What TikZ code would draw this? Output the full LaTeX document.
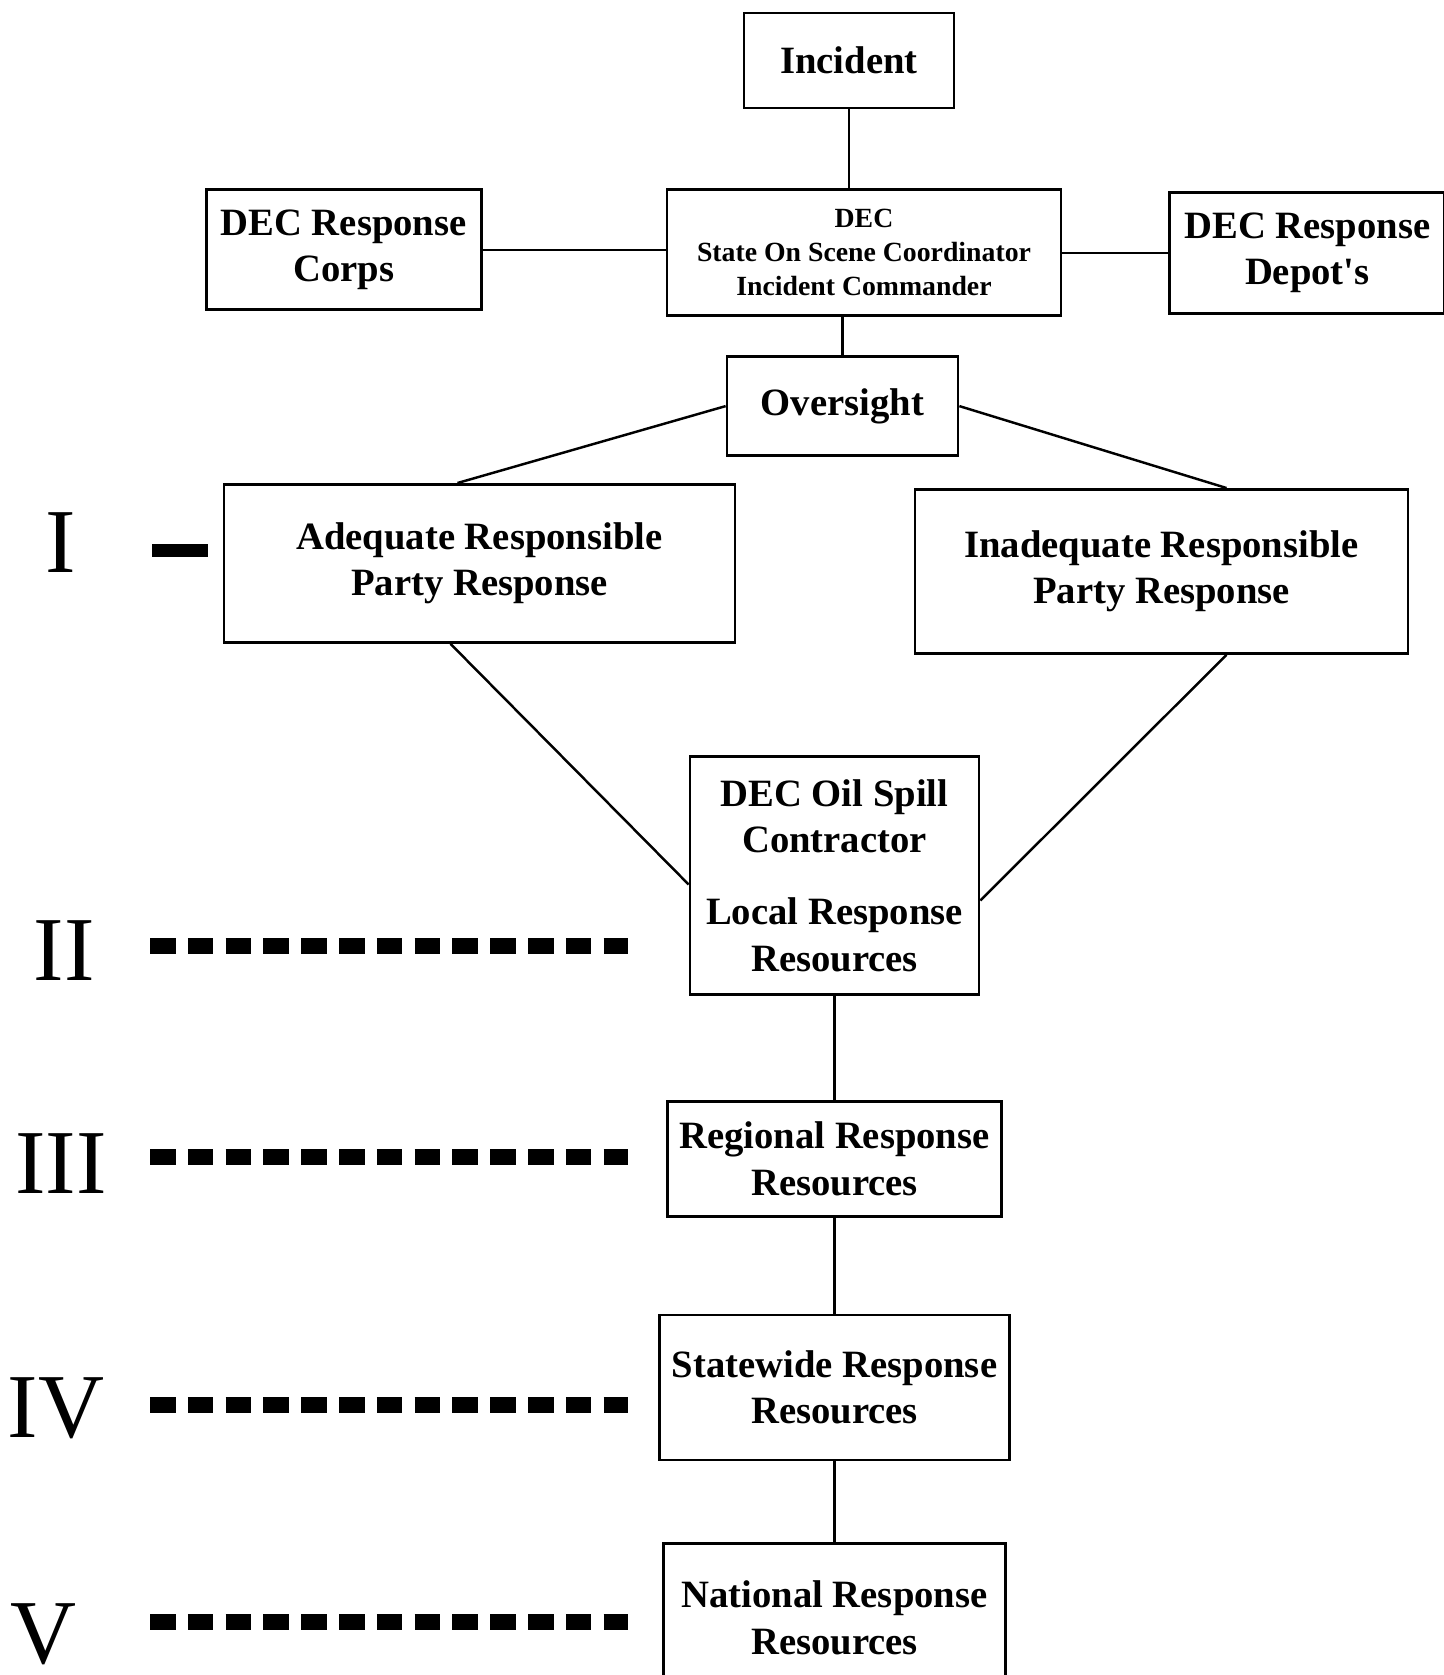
\documentclass[tikz,border=0pt]{standalone}
\usepackage{fontspec}
\setmainfont{Liberation Serif}
\usetikzlibrary{positioning,calc}

\begin{document}
\begin{tikzpicture}[
    node distance=0.5cm and 1.2cm,
    every node/.style={font=\fontsize{11}{13.2}\selectfont\bfseries},
    box/.style={rectangle, draw=black, line width=0.8pt, align=center, inner sep=2pt},
    small/.style={font=\fontsize{7.9}{9.7}\selectfont\bfseries},
    tier/.style={font=\fontsize{26}{26}\selectfont, inner sep=0pt},
    link/.style={line width=0.7pt},
    levelline/.style={line width=0.16cm, dash pattern=on 0.255cm off 0.123cm},
    tick/.style={line width=0.13cm}
]

% Page size
\useasboundingbox (0,0) rectangle (14.43,-16.75);

% Command level
\node[box, minimum width=2.10cm, minimum height=0.95cm] (inc) at (8.49,-0.605) {Incident};
\node[box, small, below=0.79cm of inc, xshift=0.15cm, minimum width=3.94cm, minimum height=1.26cm] (dec) {DEC\\State On Scene Coordinator\\Incident Commander};
\node[box, left=1.83cm of dec, yshift=0.03cm, minimum width=2.75cm, minimum height=1.20cm] (corps) {DEC Response\\Corps};
\node[box, right=1.06cm of dec, minimum width=2.75cm, minimum height=1.21cm] (depot) {DEC Response\\Depot\textquotesingle s};
\node[box, below=0.38cm of dec, xshift=-0.215cm, minimum width=2.31cm, minimum height=0.99cm] (ovs) {Oversight};

% Responsible party
\node[box, below=0.26cm of ovs, xshift=-3.63cm, minimum width=5.11cm, minimum height=1.58cm] (adq) {Adequate Responsible\\Party Response};
\node[box, below=0.31cm of ovs, xshift=3.19cm, minimum width=4.93cm, minimum height=1.64cm] (inadq) {Inadequate Responsible\\Party Response};

% Escalating resources
\node[box, below=2.98cm of ovs, xshift=-0.08cm, minimum width=2.89cm, minimum height=2.38cm] (oil) {DEC Oil Spill\\Contractor\\[0.26cm]Local Response\\Resources};
\node[box, below=1.04cm of oil, minimum width=3.34cm, minimum height=1.15cm] (reg) {Regional Response\\Resources};
\node[box, below=0.96cm of reg, minimum width=3.50cm, minimum height=1.45cm] (sw) {Statewide Response\\Resources};
\node[box, below=0.81cm of sw, minimum width=3.42cm, minimum height=1.48cm] (nat) {National Response\\Resources};

% Tier labels
\node[tier] (lvlI) at (0.61,-5.43) {I};
\node[tier] (lvlII) at (0.64,-9.51) {II};
\node[tier] (lvlIII) at (0.61,-11.64) {III};
\node[tier] (lvlIV) at (0.56,-14.08) {IV};
\node[tier] (lvlV) at (0.43,-16.34) {V};

% Rule ends
\coordinate (Ia) at (1.52,-5.51);   \coordinate (Ib) at (2.08,-5.51);
\coordinate (IIa) at (1.50,-9.46);  \coordinate (IIb) at (6.28,-9.46);
\coordinate (IIIa) at (1.50,-11.57); \coordinate (IIIb) at (6.28,-11.57);
\coordinate (IVa) at (1.50,-14.05); \coordinate (IVb) at (6.28,-14.05);
\coordinate (Va) at (1.50,-16.22);  \coordinate (Vb) at (6.28,-16.22);

% Lines
\draw[link] (inc.south) -- (inc.south |- dec.north);
\draw[link] (corps.east) -- (corps.east -| dec.west);
\draw[link] (dec.east) -- (dec.east -| depot.west);
\draw[link] (ovs.north |- dec.south) -- (ovs.north);
\draw[link] (ovs.west) -- ([xshift=-0.22cm]adq.north);
\draw[link] (ovs.east) -- ([xshift=0.65cm]inadq.north);
\draw[link] ([xshift=-0.29cm]adq.south) -- ([yshift=-0.09cm]oil.west);
\draw[link] ([xshift=0.65cm]inadq.south) -- ([yshift=-0.25cm]oil.east);
\draw[link] (oil) -- (reg);
\draw[link] (reg) -- (sw);
\draw[link] (sw) -- (nat);

% Tier rules
\draw[tick] (Ia) -- (Ib);
\draw[levelline] (IIa) -- (IIb);
\draw[levelline] (IIIa) -- (IIIb);
\draw[levelline] (IVa) -- (IVb);
\draw[levelline] (Va) -- (Vb);

\end{tikzpicture}
\end{document}
